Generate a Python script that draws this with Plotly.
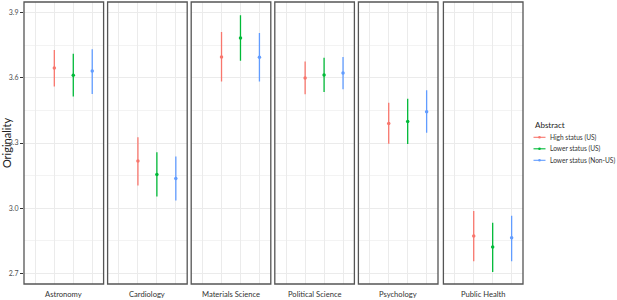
import plotly.graph_objects as go

fields = ["Astronomy", "Cardiology", "Materials Science", "Political Science", "Psychology", "Public Health"]
groups = ["High status (US)", "Lower status (US)", "Lower status (Non-US)"]
colors = ["#F8766D", "#00BA38", "#619CFF"]
legend_title = "Abstract"

# mean, lower, upper per group (rows follow fields)
high_mean = [3.645, 3.217, 3.695, 3.599, 3.390, 2.873]
high_lo = [3.560, 3.105, 3.583, 3.524, 3.296, 2.756]
high_hi = [3.727, 3.327, 3.810, 3.674, 3.485, 2.987]

lowus_mean = [3.611, 3.155, 3.783, 3.612, 3.399, 2.822]
lowus_lo = [3.514, 3.054, 3.678, 3.534, 3.295, 2.707]
lowus_hi = [3.710, 3.257, 3.887, 3.692, 3.503, 2.934]

lownon_mean = [3.631, 3.137, 3.694, 3.622, 3.444, 2.864]
lownon_lo = [3.525, 3.036, 3.583, 3.547, 3.347, 2.756]
lownon_hi = [3.731, 3.238, 3.806, 3.695, 3.542, 2.966]

y_ticks = [2.7, 3.0, 3.3, 3.6, 3.9]
y_tick_labels = ["2.7", "3.0", "3.3", "3.6", "3.9"]

series = [
    (high_mean, high_lo, high_hi),
    (lowus_mean, lowus_lo, lowus_hi),
    (lownon_mean, lownon_lo, lownon_hi),
]

FONT = "Lato"
W, H = 617, 300
L, R, T, B = 24, 94, 2, 16
PW, PH = W - L - R, H - T - B

fig = go.Figure()

n = len(fields)
step = 83.6 / PW
width = 79.6 / PW

layout = {}
annotations = []
shapes = []
for i, f in enumerate(fields):
    ax = "" if i == 0 else str(i + 1)
    x0 = i * step
    x1 = min(x0 + width, 1.0)
    if i == n - 1:
        x1 = 1.0
        x0 = 1.0 - width
    layout["xaxis" + ax] = dict(
        domain=[x0, x1], range=[-0.6, 3.6], tickvals=[0, 1, 2, 3],
        showticklabels=False, ticks="", showgrid=True, gridcolor="#ebebeb",
        gridwidth=0.8, zeroline=False, showline=False, anchor="y" + ax,
        fixedrange=True,
    )
    layout["yaxis" + ax] = dict(
        range=[2.652, 3.948], tickvals=y_ticks, ticktext=y_tick_labels,
        showticklabels=(i == 0), ticks="outside" if i == 0 else "",
        ticklen=3, tickcolor="#333333", tickwidth=0.8,
        tickfont=dict(family=FONT, size=7, color="#4d4d4d"),
        showgrid=True, gridcolor="#ebebeb", gridwidth=0.8,
        minor=dict(dtick=0.15, tick0=2.7, showgrid=True, gridcolor="#f3f3f3", gridwidth=0.6),
        zeroline=False, showline=False, anchor="x" + ax, fixedrange=True,
    )
    if i == 0:
        layout["yaxis"]["title"] = dict(text="Originality", font=dict(family=FONT, size=11, color="#222222"), standoff=6)
    shapes.append(dict(type="rect", xref="x" + ax + " domain", yref="y" + ax + " domain",
                       x0=0, x1=1, y0=0, y1=1, line=dict(color="#555555", width=1.3)))
    annotations.append(dict(text=f, xref="x" + ax + " domain", yref="paper", x=0.5, y=0,
                            yanchor="top", yshift=-3, showarrow=False,
                            font=dict(family=FONT, size=7.6, color="#333333")))
    for g, (name, color, (m, lo, hi)) in enumerate(zip(groups, colors, series)):
        fig.add_trace(go.Scatter(
            x=[g + 1], y=[m[i]], mode="markers", name=name,
            showlegend=False,
            marker=dict(color=color, size=3.5),
            error_y=dict(type="data", symmetric=False, array=[hi[i] - m[i]],
                         arrayminus=[m[i] - lo[i]], color=color, thickness=1.3, width=0),
            xaxis="x" + ax, yaxis="y" + ax,
        ))

# Legend (drawn in paper space, to match ggplot's compact legend)
def px_x(px):
    return (px - L) / PW

def px_y(py):
    return 1 - (py - T) / PH

annotations.append(dict(text=legend_title, xref="paper", yref="paper", x=px_x(532.5), y=px_y(125),
                        xanchor="left", yanchor="middle", showarrow=False,
                        font=dict(family=FONT, size=8, color="#222222")))
for k, (name, color) in enumerate(zip(groups, colors)):
    yy = 137.3 + k * 11.5
    shapes.append(dict(type="line", xref="paper", yref="paper", x0=px_x(533.5), x1=px_x(545.5),
                       y0=px_y(yy), y1=px_y(yy), line=dict(color=color, width=1.1)))
    shapes.append(dict(type="circle", xref="paper", yref="paper", x0=px_x(538.2), x1=px_x(540.8),
                       y0=px_y(yy + 1.3), y1=px_y(yy - 1.3), fillcolor=color, line=dict(width=0)))
    annotations.append(dict(text=name, xref="paper", yref="paper", x=px_x(547.5), y=px_y(yy),
                            xanchor="left", yanchor="middle", showarrow=False,
                            font=dict(family=FONT, size=6.6, color="#333333")))

fig.update_layout(
    **layout,
    width=W, height=H,
    margin=dict(l=L, r=R, t=T, b=B, autoexpand=False),
    plot_bgcolor="white", paper_bgcolor="white",
    shapes=shapes, annotations=annotations,
    font=dict(family=FONT, size=8, color="#333333"),
    showlegend=False,
)

fig.write_html("out.html", config={"displayModeBar": False},
               post_script="document.body.style.margin='0';document.body.style.overflow='hidden';")
